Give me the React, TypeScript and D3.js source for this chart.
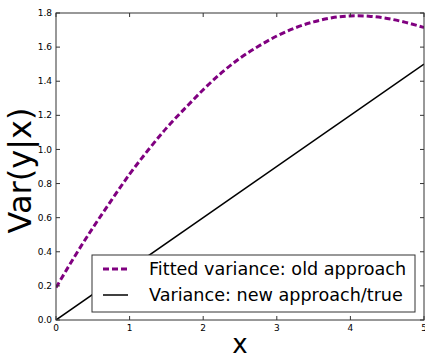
import React from "react";
import * as d3 from "d3";

// values
const xValues = [0, 0.25, 0.5, 0.75, 1, 1.25, 1.5, 1.75, 2, 2.25, 2.5, 2.75, 3, 3.25, 3.5, 3.75, 4, 4.25, 4.5, 4.75, 5];
const fittedVariance = [0.19, 0.37, 0.54, 0.7, 0.855, 0.995, 1.125, 1.24, 1.35, 1.45, 1.535, 1.605, 1.665, 1.713, 1.748, 1.772, 1.783, 1.781, 1.768, 1.745, 1.715];
const trueX = [0, 5];
const trueVariance = [0, 1.5];
const xTicks = [0, 1, 2, 3, 4, 5];
const yTicks = [0, 0.2, 0.4, 0.6, 0.8, 1.0, 1.2, 1.4, 1.6, 1.8];
const legendLabels = ["Fitted variance: old approach", "Variance: new approach/true"];

const font = "'DejaVu Sans', sans-serif";

export default function App() {
  const width = 425;
  const height = 358;
  const margin = { top: 13, right: 1, bottom: 38, left: 56 };
  const innerWidth = width - margin.left - margin.right;
  const innerHeight = height - margin.top - margin.bottom;

  const x = d3.scaleLinear().domain([0, 5]).range([0, innerWidth]);
  const y = d3.scaleLinear().domain([0, 1.8]).range([innerHeight, 0]);

  const fittedLine = d3
    .line<number>()
    .x((_, i) => x(xValues[i]))
    .y((d) => y(d))
    .curve(d3.curveNatural);
  const trueLine = d3
    .line<number>()
    .x((_, i) => x(trueX[i]))
    .y((d) => y(d));

  const tick = 4;
  const legend = { x: 36, y: 242, w: 323, h: 57 };

  return (
    <svg
      width={width}
      height={height}
      style={{ position: "absolute", left: 0, top: 0, background: "#fff" }}
    >
      <defs>
        <clipPath id="plot">
          <rect width={innerWidth} height={innerHeight} />
        </clipPath>
      </defs>
      <g transform={`translate(${margin.left},${margin.top})`}>
        <g clipPath="url(#plot)">
          <path
            d={trueLine(trueVariance) ?? ""}
            fill="none"
            stroke="#000"
            strokeWidth={1.5}
          />
          <path
            d={fittedLine(fittedVariance) ?? ""}
            fill="none"
            stroke="#800080"
            strokeWidth={3}
            strokeDasharray="6,3"
          />
        </g>

        <rect
          width={innerWidth}
          height={innerHeight}
          fill="none"
          stroke="#333"
          strokeWidth={1}
        />

        {xTicks.map((t) => (
          <g key={t} transform={`translate(${x(t)},0)`}>
            <line y1={innerHeight} y2={innerHeight - tick} stroke="#333" />
            <line y1={0} y2={tick} stroke="#333" />
            <text
              y={innerHeight + 4}
              dy="0.75em"
              textAnchor="middle"
              fontFamily={font}
              fontSize={9}
            >
              {t}
            </text>
          </g>
        ))}
        {yTicks.map((t) => (
          <g key={t} transform={`translate(0,${y(t)})`}>
            <line x1={0} x2={tick} stroke="#333" />
            <line x1={innerWidth} x2={innerWidth - tick} stroke="#333" />
            <text
              x={-4}
              dy="0.35em"
              textAnchor="end"
              fontFamily={font}
              fontSize={9}
            >
              {t.toFixed(1)}
            </text>
          </g>
        ))}

        <g transform={`translate(${legend.x},${legend.y})`}>
          <rect
            width={legend.w}
            height={legend.h}
            fill="#fff"
            stroke="#333"
            strokeWidth={1}
          />
          {legendLabels.map((label, i) => (
            <g key={label} transform={`translate(0,${14 + i * 26})`}>
              <line
                x1={11}
                x2={36}
                stroke={i === 0 ? "#800080" : "#000"}
                strokeWidth={i === 0 ? 3 : 1.5}
                strokeDasharray={i === 0 ? "6,3" : undefined}
              />
              <text x={57} dy="0.35em" fontFamily={font} fontSize={17.6}>
                {label}
              </text>
            </g>
          ))}
        </g>

        <text
          x={innerWidth / 2}
          y={innerHeight + 33}
          textAnchor="middle"
          fontFamily={font}
          fontSize={26}
        >
          x
        </text>
        <text
          transform={`translate(${-25},${innerHeight / 2 + 4}) rotate(-90)`}
          textAnchor="middle"
          fontFamily={font}
          fontSize={32}
        >
          Var(y|x)
        </text>
      </g>
    </svg>
  );
}
